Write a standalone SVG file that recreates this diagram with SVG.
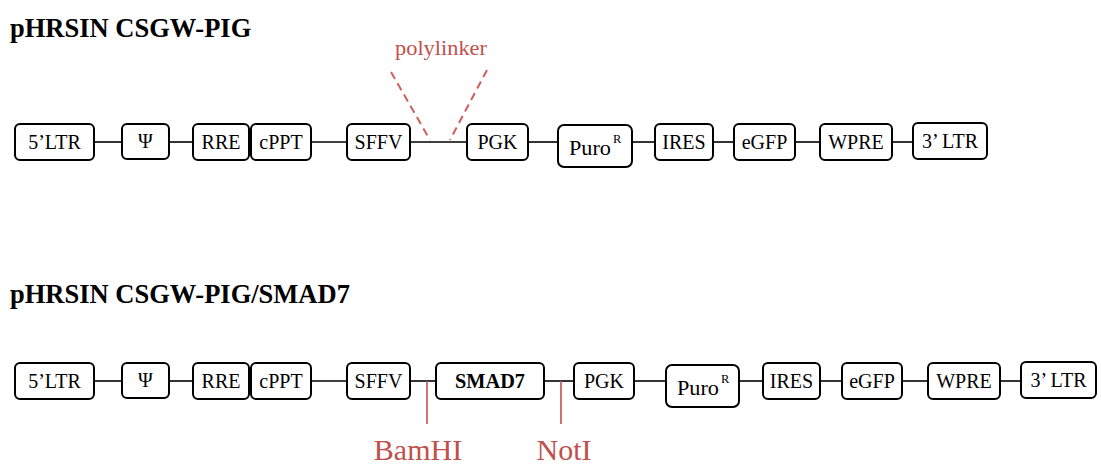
<svg xmlns="http://www.w3.org/2000/svg" width="1101" height="467" viewBox="0 0 1101 467">
  <style>
    .title { font-family: "Liberation Serif", "Times New Roman", serif; font-weight: bold; font-size: 26.5px; fill: #000; }
    .box { fill: #fff; stroke: #000; stroke-width: 2; }
    .lbl { font-family: "Liberation Serif", "Times New Roman", serif; font-size: 20px; fill: #000; text-anchor: middle; }
    .sup { font-family: "Liberation Serif", "Times New Roman", serif; font-size: 12.5px; fill: #000; }
    .bold { font-weight: bold; }
    .link { stroke: #000; stroke-width: 1.6; fill: none; }
    .site { stroke: #c0504d; stroke-width: 1.6; fill: none; }
    .dash { stroke: #cf5f5c; stroke-width: 2; fill: none; stroke-dasharray: 8 5; }
    .red { font-family: "Liberation Serif", "Times New Roman", serif; fill: #c0504d; text-anchor: middle; }
  </style>

  <!-- Titles -->
  <text class="title" x="10" y="37">pHRSIN CSGW-PIG</text>
  <text class="title" x="10" y="303">pHRSIN CSGW-PIG/SMAD7</text>

  <!-- Connectors -->
  <g id="connectors">
    <!-- upper construct backbone -->
    <line class="link" x1="94" y1="142" x2="122" y2="142"/>
    <line class="link" x1="169" y1="142" x2="193" y2="142"/>
    <line class="link" x1="311" y1="142" x2="347" y2="142"/>
    <line class="link" x1="410" y1="142" x2="467" y2="142"/>
    <line class="link" x1="528" y1="142" x2="558" y2="142"/>
    <line class="link" x1="632" y1="142" x2="655" y2="142"/>
    <line class="link" x1="713" y1="142" x2="734" y2="142"/>
    <line class="link" x1="795" y1="142" x2="820" y2="142"/>
    <line class="link" x1="892" y1="142" x2="913" y2="142"/>
    <!-- polylinker markers -->
    <line class="dash" x1="391" y1="72" x2="430" y2="140"/>
    <line class="dash" x1="487" y1="70" x2="450" y2="140"/>
    <!-- lower construct backbone -->
    <line class="link" x1="94" y1="381" x2="122" y2="381"/>
    <line class="link" x1="169" y1="381" x2="193" y2="381"/>
    <line class="link" x1="311" y1="381" x2="347" y2="381"/>
    <line class="link" x1="410" y1="381" x2="436" y2="381"/>
    <line class="link" x1="544" y1="381" x2="574" y2="381"/>
    <line class="link" x1="634" y1="381" x2="666" y2="381"/>
    <line class="link" x1="739" y1="381" x2="763" y2="381"/>
    <line class="link" x1="820" y1="381" x2="842" y2="381"/>
    <line class="link" x1="902" y1="381" x2="928" y2="381"/>
    <line class="link" x1="1000" y1="381" x2="1021" y2="381"/>
    <!-- restriction sites -->
    <line class="site" x1="427" y1="381" x2="427" y2="424"/>
    <line class="site" x1="561" y1="381" x2="561" y2="424"/>
  </g>

  <text class="red" x="441" y="55" font-size="20" textLength="92" lengthAdjust="spacingAndGlyphs">polylinker</text>
  <text class="red" x="418" y="460" font-size="30">BamHI</text>
  <text class="red" x="564" y="460" font-size="30">NotI</text>

  <!-- Upper construct -->
  <g id="t-ltr5"><rect class="box" x="15" y="124" width="79" height="36" rx="5"/><text class="lbl" x="54.5" y="149">5’LTR</text></g>
  <g id="t-psi"><rect class="box" x="122" y="124" width="47" height="35" rx="5"/><text class="lbl" x="145.5" y="148">Ψ</text></g>
  <g id="t-rre"><rect class="box" x="193" y="124" width="56" height="36" rx="5"/><text class="lbl" x="221" y="149">RRE</text></g>
  <g id="t-cppt"><rect class="box" x="251" y="124" width="60" height="36" rx="5"/><text class="lbl" x="281" y="149">cPPT</text></g>
  <g id="t-sffv"><rect class="box" x="347" y="124" width="63" height="36" rx="5"/><text class="lbl" x="378.5" y="149">SFFV</text></g>
  <g id="t-pgk"><rect class="box" x="467" y="124" width="61" height="36" rx="5"/><text class="lbl" x="497.5" y="149">PGK</text></g>
  <g id="t-puro"><rect class="box" x="558" y="125" width="74" height="42" rx="6"/><text class="lbl" x="590" y="155" textLength="42" lengthAdjust="spacingAndGlyphs">Puro</text><text class="sup" x="613" y="143">R</text></g>
  <g id="t-ires"><rect class="box" x="655" y="124" width="58" height="36" rx="5"/><text class="lbl" x="684" y="149">IRES</text></g>
  <g id="t-egfp"><rect class="box" x="734" y="124" width="61" height="36" rx="5"/><text class="lbl" x="764.5" y="149">eGFP</text></g>
  <g id="t-wpre"><rect class="box" x="820" y="124" width="72" height="36" rx="5"/><text class="lbl" x="856" y="149">WPRE</text></g>
  <g id="t-ltr3"><rect class="box" x="913" y="123" width="74" height="36" rx="5"/><text class="lbl" x="950" y="148">3’ LTR</text></g>

  <!-- Lower construct -->
  <g id="b-ltr5"><rect class="box" x="15" y="363" width="79" height="36" rx="5"/><text class="lbl" x="54.5" y="388">5’LTR</text></g>
  <g id="b-psi"><rect class="box" x="122" y="363" width="47" height="35" rx="5"/><text class="lbl" x="145.5" y="387">Ψ</text></g>
  <g id="b-rre"><rect class="box" x="193" y="363" width="56" height="36" rx="5"/><text class="lbl" x="221" y="388">RRE</text></g>
  <g id="b-cppt"><rect class="box" x="251" y="363" width="60" height="36" rx="5"/><text class="lbl" x="281" y="388">cPPT</text></g>
  <g id="b-sffv"><rect class="box" x="347" y="363" width="63" height="36" rx="5"/><text class="lbl" x="378.5" y="388">SFFV</text></g>
  <g id="b-smad7"><rect class="box" x="436" y="363" width="108" height="36" rx="5"/><text class="lbl bold" x="490" y="388" textLength="70" lengthAdjust="spacingAndGlyphs">SMAD7</text></g>
  <g id="b-pgk"><rect class="box" x="574" y="363" width="60" height="36" rx="5"/><text class="lbl" x="604" y="388">PGK</text></g>
  <g id="b-puro"><rect class="box" x="666" y="365" width="73" height="42" rx="6"/><text class="lbl" x="698" y="395" textLength="42" lengthAdjust="spacingAndGlyphs">Puro</text><text class="sup" x="721" y="383">R</text></g>
  <g id="b-ires"><rect class="box" x="763" y="363" width="57" height="36" rx="5"/><text class="lbl" x="791.5" y="388">IRES</text></g>
  <g id="b-egfp"><rect class="box" x="842" y="363" width="60" height="36" rx="5"/><text class="lbl" x="872" y="388">eGFP</text></g>
  <g id="b-wpre"><rect class="box" x="928" y="363" width="72" height="36" rx="5"/><text class="lbl" x="964" y="388">WPRE</text></g>
  <g id="b-ltr3"><rect class="box" x="1021" y="362" width="75" height="36" rx="5"/><text class="lbl" x="1058.5" y="387">3’ LTR</text></g>
</svg>
